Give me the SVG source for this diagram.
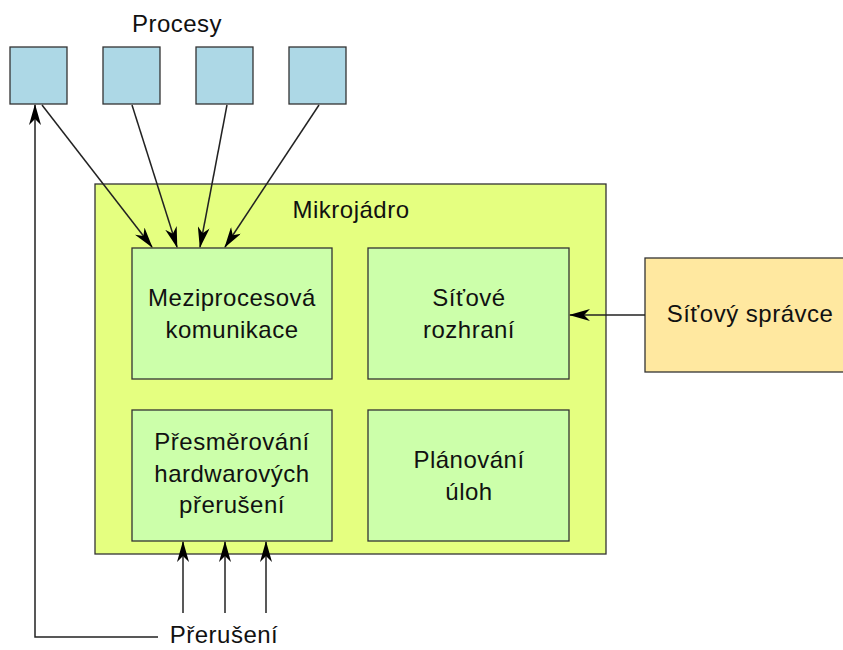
<svg xmlns="http://www.w3.org/2000/svg" width="843" height="650" viewBox="0 0 843 650">
<defs>
<marker id="ah" markerUnits="userSpaceOnUse" viewBox="0 0 21 12" markerWidth="21" markerHeight="12" refX="20" refY="6" orient="auto">
<path d="M0,0 L21,6 L0,12 L6,6 z" fill="#000"/>
</marker>
<style>
text{font-family:"Liberation Sans",Arial,sans-serif;font-size:24px;fill:#111;text-anchor:middle;letter-spacing:0.5px}
.proc{fill:#add8e6;stroke:#333;stroke-width:1.3}
.kern{fill:#e5ff80;stroke:#333;stroke-width:1.3}
.mod{fill:#ccffaa;stroke:#333;stroke-width:1.3}
.ext{fill:#ffe8a0;stroke:#333;stroke-width:1.3}
.c{fill:none;stroke:#222;stroke-width:1.5;marker-end:url(#ah)}
</style>
</defs>
<rect width="843" height="650" fill="#fff"/>
<text x="177" y="32">Procesy</text>
<g id="p1"><rect class="proc" x="10" y="47" width="57" height="57"/></g>
<g id="p2"><rect class="proc" x="103" y="47" width="57" height="57"/></g>
<g id="p3"><rect class="proc" x="196" y="47" width="57" height="57"/></g>
<g id="p4"><rect class="proc" x="289" y="47" width="57" height="57"/></g>
<g id="mikrojadro"><rect class="kern" x="95" y="184" width="511" height="370"/><text x="351" y="218">Mikrojádro</text></g>
<g id="ipc"><rect class="mod" x="132" y="248" width="200" height="131"/><text x="232" y="306">Meziprocesová</text><text x="232" y="338">komunikace</text></g>
<g id="net"><rect class="mod" x="368" y="248" width="201" height="131"/><text x="469" y="306">Síťové</text><text x="469" y="338">rozhraní</text></g>
<g id="irq"><rect class="mod" x="132" y="410" width="200" height="131"/><text x="232" y="450">Přesměrování</text><text x="232" y="482">hardwarových</text><text x="232" y="513">přerušení</text></g>
<g id="sched"><rect class="mod" x="368" y="410" width="201" height="131"/><text x="469" y="468">Plánování</text><text x="469" y="500">úloh</text></g>
<g id="spravce"><rect class="ext" x="645" y="258" width="205" height="114"/><text x="750" y="322">Síťový správce</text></g>
<g id="preruseni"><text x="224" y="643">Přerušení</text></g>
<g id="connectors">
<line class="c" x1="42" y1="105" x2="152" y2="247"/>
<line class="c" x1="132" y1="105" x2="177" y2="247"/>
<line class="c" x1="227" y1="105" x2="200" y2="247"/>
<line class="c" x1="319" y1="105" x2="225" y2="247"/>
<polyline class="c" points="158,637 35,637 35,105"/>
<line class="c" x1="183" y1="613" x2="183" y2="542"/>
<line class="c" x1="225" y1="613" x2="225" y2="542"/>
<line class="c" x1="266" y1="613" x2="266" y2="542"/>
<line class="c" x1="645" y1="315" x2="570" y2="315"/>
</g>
</svg>
